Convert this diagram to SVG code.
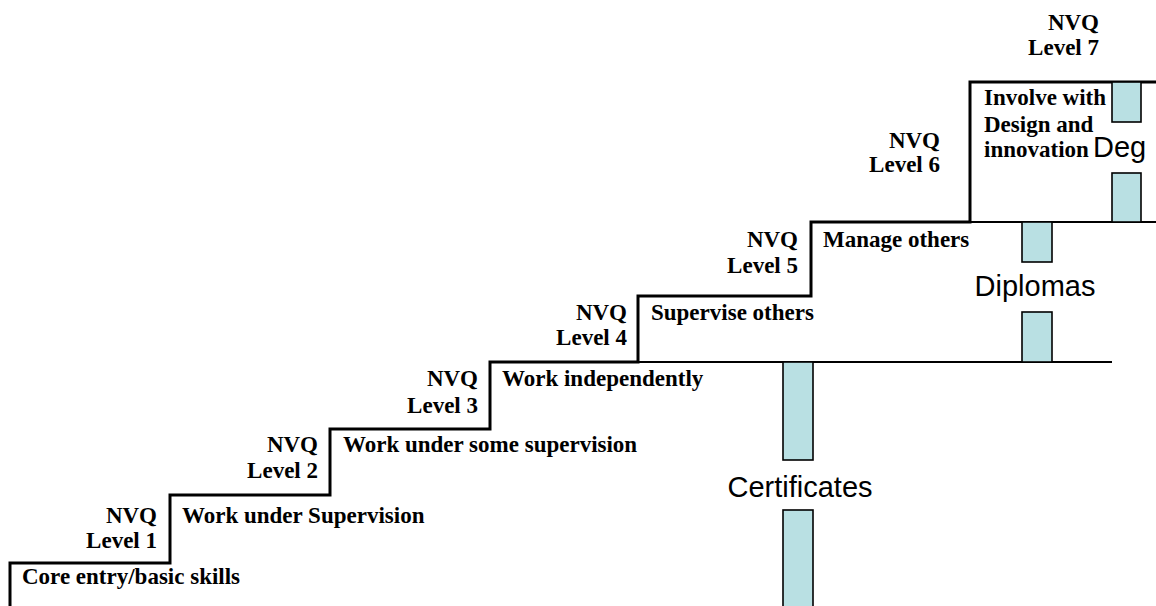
<svg xmlns="http://www.w3.org/2000/svg" width="1156" height="606" viewBox="0 0 1156 606">
<style>
.lbl{font-family:"Liberation Serif","Times New Roman",serif;font-weight:bold;font-size:23px;fill:#000}
.r{text-anchor:end}
.big{font-family:"Liberation Sans",Arial,sans-serif;font-size:29px;fill:#000}
.bar{fill:#b9e0e3;stroke:#000;stroke-width:1.6}
.stair{fill:none;stroke:#000;stroke-width:3;stroke-linejoin:miter}
.thin{fill:none;stroke:#000;stroke-width:2}
</style>
<rect width="1156" height="606" fill="#fff"/>
<g id="connectors">
<path class="thin" d="M638,362 H1112"/>
<path class="thin" d="M970,222 H1156"/>
<path class="stair" d="M10,606 V563 H170 V495 H330 V429 H490 V362 H638 V296 H811 V222 H970 V82 H1156"/>
</g>
<g id="level0"><text class="lbl" x="22" y="584">Core entry/basic skills</text></g>
<g id="level1">
<text class="lbl r" x="157" y="523">NVQ</text>
<text class="lbl r" x="157" y="548">Level 1</text>
<text class="lbl" x="182" y="523">Work under Supervision</text>
</g>
<g id="level2">
<text class="lbl r" x="318" y="452">NVQ</text>
<text class="lbl r" x="318" y="478">Level 2</text>
<text class="lbl" x="343" y="452">Work under some supervision</text>
</g>
<g id="level3">
<text class="lbl r" x="478" y="386">NVQ</text>
<text class="lbl r" x="478" y="413">Level 3</text>
<text class="lbl" x="502" y="386">Work independently</text>
</g>
<g id="level4">
<text class="lbl r" x="627" y="320">NVQ</text>
<text class="lbl r" x="627" y="345">Level 4</text>
<text class="lbl" x="651" y="320">Supervise others</text>
</g>
<g id="level5">
<text class="lbl r" x="798" y="247">NVQ</text>
<text class="lbl r" x="798" y="273">Level 5</text>
<text class="lbl" x="823" y="247">Manage others</text>
</g>
<g id="level6">
<text class="lbl r" x="940" y="148">NVQ</text>
<text class="lbl r" x="940" y="172">Level 6</text>
<text class="lbl" x="984" y="105">Involve with</text>
<text class="lbl" x="984" y="132">Design  and</text>
<text class="lbl" x="984" y="157">innovation</text>
</g>
<g id="level7">
<text class="lbl r" x="1099" y="30">NVQ</text>
<text class="lbl r" x="1099" y="55">Level  7</text>
</g>
<g id="certificates">
<rect class="bar" x="783" y="362" width="30" height="98"/>
<rect class="bar" x="783" y="510" width="30" height="100"/>
<text class="big" x="800" y="497" text-anchor="middle">Certificates</text>
</g>
<g id="diplomas">
<rect class="bar" x="1022" y="222" width="30" height="40"/>
<rect class="bar" x="1022" y="312" width="30" height="50"/>
<text class="big" x="1035" y="296" text-anchor="middle">Diplomas</text>
</g>
<g id="degrees">
<rect class="bar" x="1112" y="82" width="29" height="40"/>
<rect class="bar" x="1112" y="173" width="29" height="49"/>
<text class="big" x="1093" y="157">Deg</text>
</g>
</svg>
